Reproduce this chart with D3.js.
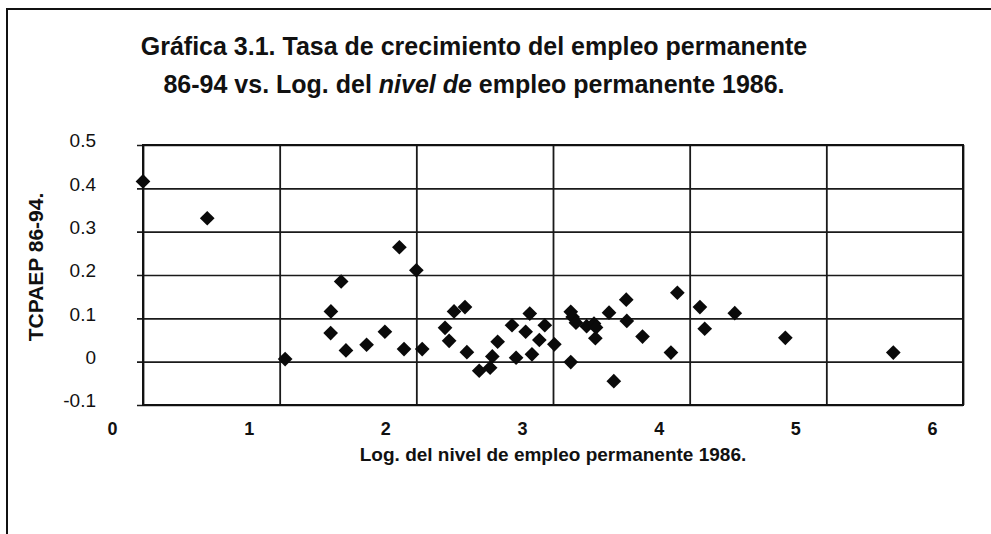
<!DOCTYPE html>
<html>
<head>
<meta charset="utf-8">
<script src="https://cdn.jsdelivr.net/npm/d3@7"></script>
<style>
  body { margin: 0; background: #fff; }
  text { font-family: "Liberation Sans", Arial, sans-serif; fill: #111; }
</style>
</head>
<body>
<div id="chart"></div>
<script>
// Log. del nivel de empleo permanente 1986 (x) vs TCPAEP 86-94 (y)
const xValues = [0.00, 0.47, 1.04, 1.375, 1.373, 1.45, 1.485, 1.636, 1.77, 1.876,
    1.91, 2.00, 2.043, 2.21, 2.24, 2.276, 2.356, 2.37, 2.46, 2.54,
    2.556, 2.595, 2.70, 2.73, 2.80, 2.83, 2.846, 2.90, 2.94, 3.01,
    3.13, 3.144, 3.168, 3.246, 3.30, 3.315, 3.31, 3.13, 3.41, 3.445,
    3.536, 3.54, 3.655, 3.863, 3.91, 4.075, 4.11, 4.33, 4.70, 5.49];
const yValues = [0.416, 0.331, 0.006, 0.116, 0.066, 0.185, 0.026, 0.039, 0.069, 0.264,
    0.029, 0.211, 0.029, 0.078, 0.048, 0.116, 0.126, 0.022, -0.021, -0.014,
    0.012, 0.046, 0.084, 0.009, 0.069, 0.111, 0.017, 0.050, 0.084, 0.040,
    0.115, 0.103, 0.090, 0.082, 0.088, 0.079, 0.054, -0.001, 0.113, -0.045,
    0.143, 0.094, 0.058, 0.021, 0.159, 0.126, 0.076, 0.112, 0.055, 0.021];

const xTicks = [0, 1, 2, 3, 4, 5, 6];
const xTickLabels = ["0", "1", "2", "3", "4", "5", "6"];
const yTicks = [-0.1, 0, 0.1, 0.2, 0.3, 0.4, 0.5];
const yTickLabels = ["-0.1", "0", "0.1", "0.2", "0.3", "0.4", "0.5"];

const titleLines = ["Gráfica 3.1. Tasa de crecimiento del empleo permanente",
    "86-94 vs. Log. del nivel de empleo permanente 1986."];
const xTitle = "Log. del nivel de empleo permanente 1986.";
const yTitle = "TCPAEP 86-94.";

const points = xValues.map((v, i) => ({ x: v, y: yValues[i] }));

const width = 991;
const height = 534;
const plot = { left: 143, right: 963, top: 145, bottom: 405 };

const svg = d3.select("#chart").append("svg")
    .attr("width", width)
    .attr("height", height);

// outer frame of the scanned page (top and left edges only)
svg.append("path")
    .attr("d", `M7,${height} V9 H${width}`)
    .attr("fill", "none")
    .attr("stroke", "#111")
    .attr("stroke-width", 2);

const x = d3.scaleLinear()
    .domain([0, 6])
    .range([plot.left, plot.right]);

const y = d3.scaleLinear()
    .domain([-0.1, 0.5])
    .range([plot.bottom, plot.top]);

// Title (two lines)
const title = svg.append("text")
    .attr("text-anchor", "middle")
    .style("font-size", "25px")
    .style("font-weight", "bold");
title.append("tspan").attr("x", 474).attr("y", 55).text(titleLines[0]);
const l2 = title.append("tspan").attr("x", 474).attr("y", 93);
l2.append("tspan").text("86-94 vs. Log. del ");
l2.append("tspan").style("font-style", "italic").text("nivel de");
l2.append("tspan").text(" empleo permanente 1986.");

// horizontal gridlines + y labels
const yAxis = svg.append("g")
    .attr("transform", `translate(${plot.left},0)`)
    .call(d3.axisLeft(y)
        .tickValues(yTicks)
        .tickSize(-(plot.right - plot.left))
        .tickPadding(47)
        .tickFormat((d, i) => yTickLabels[i]));
yAxis.select(".domain").remove();
yAxis.selectAll("line")
    .attr("x1", -6)
    .attr("stroke", "#1a1a1a")
    .attr("stroke-width", 1.6);
yAxis.selectAll("text")
    .attr("dy", "0.1em")
    .style("font-size", "19px")
    .style("font-family", "'Liberation Sans', Arial, sans-serif")
    .attr("fill", "#1a1a1a");

// vertical gridlines + x labels (labels sit left of their gridline, as in the print)
const xAxis = svg.append("g")
    .attr("transform", `translate(0,${plot.bottom})`)
    .call(d3.axisBottom(x)
        .tickValues(xTicks)
        .tickSize(-(plot.bottom - plot.top))
        .tickPadding(17)
        .tickFormat((d, i) => xTickLabels[i]));
xAxis.select(".domain").remove();
xAxis.selectAll("line")
    .attr("stroke", "#1a1a1a")
    .attr("stroke-width", 1.8);
xAxis.selectAll("text")
    .attr("dx", -31)
    .style("font-size", "18px")
    .style("font-weight", "bold")
    .style("font-family", "'Liberation Sans', Arial, sans-serif")
    .attr("fill", "#111");

// plot area border
svg.append("rect")
    .attr("x", plot.left)
    .attr("y", plot.top)
    .attr("width", plot.right - plot.left)
    .attr("height", plot.bottom - plot.top)
    .attr("fill", "none")
    .attr("stroke", "#111")
    .attr("stroke-width", 2);

// diamond markers
svg.append("g")
    .selectAll("path")
    .data(points)
    .enter().append("path")
    .attr("d", d3.symbol(d3.symbolSquare, 108))
    .attr("transform", d => `translate(${x(d.x)},${y(d.y)}) rotate(45)`)
    .attr("fill", "#0a0a0a");

// X-axis label
svg.append("text")
    .attr("text-anchor", "middle")
    .attr("x", (plot.left + plot.right) / 2)
    .attr("y", 461)
    .style("font-size", "19px")
    .style("font-weight", "bold")
    .text(xTitle);

// Y-axis label
svg.append("text")
    .attr("text-anchor", "middle")
    .attr("transform", "rotate(-90)")
    .attr("x", -267)
    .attr("y", 43)
    .style("font-size", "21px")
    .style("font-weight", "bold")
    .text(yTitle);
</script>
</body>
</html>
